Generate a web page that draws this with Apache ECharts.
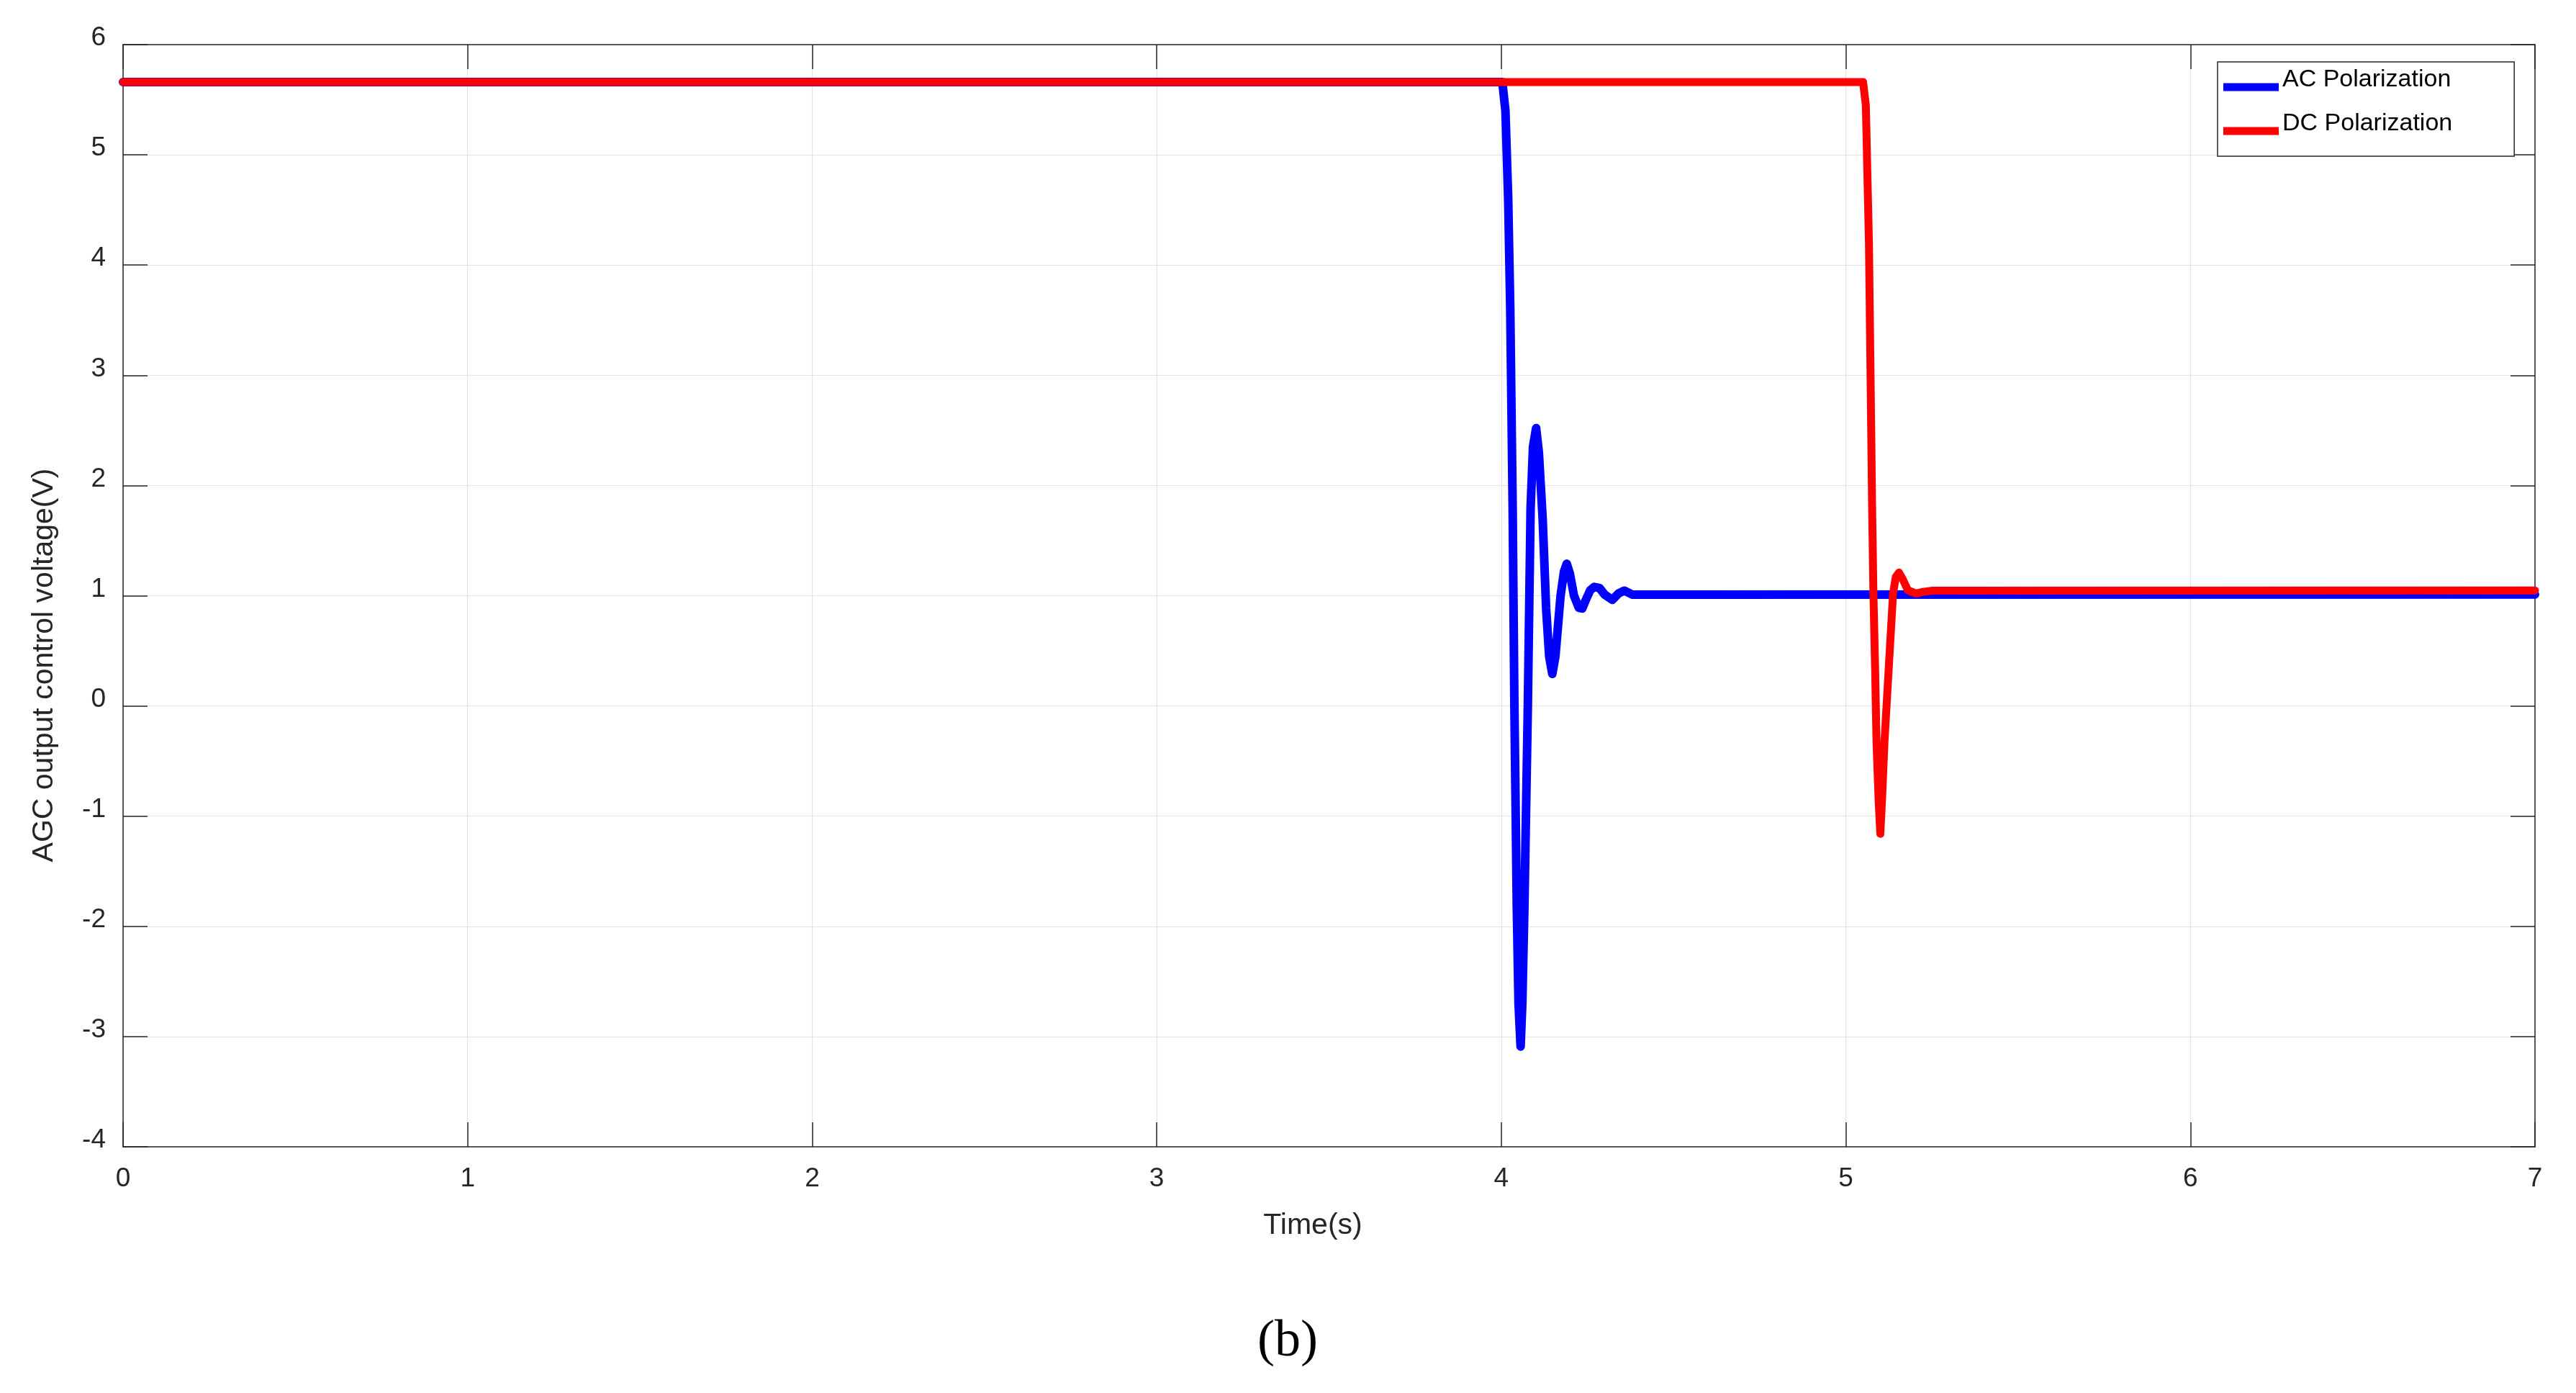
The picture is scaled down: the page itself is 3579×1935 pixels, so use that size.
<!DOCTYPE html>
<html>
<head>
<meta charset="utf-8">
<script src="https://cdn.jsdelivr.net/npm/echarts@6/dist/echarts.min.js"></script>
<style>
html,body{margin:0;padding:0;background:#fff;}
#chart{width:3579px;height:1935px;}
</style>
</head>
<body>
<div id="chart"></div>
<script>
// ---- Data ----
const xTicks = [0, 1, 2, 3, 4, 5, 6, 7];
const yTicks = [-4, -3, -2, -1, 0, 1, 2, 3, 4, 5, 6];

const acName = 'AC Polarization';
const acTime  = [0, 4.003, 4.012, 4.020, 4.026, 4.033, 4.038, 4.045, 4.050, 4.056, 4.061, 4.067, 4.077, 4.085, 4.092, 4.101, 4.109, 4.120, 4.130, 4.139, 4.148, 4.157, 4.172, 4.182, 4.190, 4.199, 4.211, 4.225, 4.235, 4.245, 4.258, 4.270, 4.285, 4.300, 4.322, 4.340, 4.357, 4.380, 7.0];
const acValue = [5.66, 5.66, 5.40, 4.60, 3.60, 1.79, 0.00, -1.83, -2.70, -3.09, -2.70, -1.83, 0.00, 1.79, 2.35, 2.52, 2.30, 1.70, 0.89, 0.45, 0.29, 0.45, 1.00, 1.22, 1.29, 1.20, 1.00, 0.89, 0.885, 0.96, 1.05, 1.08, 1.07, 1.01, 0.963, 1.02, 1.046, 1.01, 1.012];

const dcName = 'DC Polarization';
const dcTime  = [0, 5.050, 5.058, 5.067, 5.074, 5.076, 5.080, 5.085, 5.089, 5.095, 5.100, 5.105, 5.112, 5.124, 5.137, 5.145, 5.154, 5.165, 5.180, 5.203, 5.225, 5.248, 7.0];
const dcValue = [5.66, 5.66, 5.45, 4.20, 2.39, 1.84, 1.02, 0.32, -0.33, -0.85, -1.16, -0.85, -0.33, 0.32, 1.02, 1.17, 1.21, 1.15, 1.05, 1.02, 1.035, 1.045, 1.048];

const xTitle = 'Time(s)';
const yTitle = 'AGC output control voltage(V)';
const panelLabel = '(b)';

// ---- Build ----
const zip = (a, b) => a.map((t, i) => [t, b[i]]);
const axisColor = '#262626';
const sans = '"Liberation Sans", Arial, Helvetica, sans-serif';

const chart = echarts.init(document.getElementById('chart'), null, {renderer: 'canvas'});

const tickStyle = {show: true, inside: true, length: 34, lineStyle: {color: axisColor, width: 1.5}};
const lineAx = {show: true, onZero: false, lineStyle: {color: axisColor, width: 1.5}};

// legend swatch: a thick line sitting slightly below the text centre (as in the reference)
const legendIcon = 'path://M0,0L77,0Z M0,20L77,20L77,31L0,31Z';

chart.setOption({
  backgroundColor: '#ffffff',
  animation: false,
  grid: {left: 171, right: 57, top: 62, bottom: 342, show: false},
  legend: {
    orient: 'vertical',
    left: 3081, top: 86,
    padding: [8, 86, 28, 8],
    itemGap: 27,
    itemWidth: 77, itemHeight: 31,
    icon: legendIcon,
    borderColor: axisColor, borderWidth: 1.5,
    backgroundColor: '#ffffff',
    textStyle: {fontSize: 34, color: '#000000', fontFamily: sans},
    data: [acName, dcName]
  },
  xAxis: [
    {
      type: 'value', position: 'bottom', min: xTicks[0], max: xTicks[xTicks.length - 1], interval: 1,
      axisLine: lineAx, axisTick: tickStyle,
      axisLabel: {fontSize: 37, color: axisColor, fontFamily: sans, margin: 26},
      splitLine: {show: true, lineStyle: {color: '#e3e3e3', width: 1.2}}
    },
    {
      type: 'value', position: 'top', min: xTicks[0], max: xTicks[xTicks.length - 1], interval: 1,
      axisLine: lineAx, axisTick: tickStyle, axisLabel: {show: false}, splitLine: {show: false}
    }
  ],
  yAxis: [
    {
      type: 'value', position: 'left', min: yTicks[0], max: yTicks[yTicks.length - 1], interval: 1,
      axisLine: lineAx, axisTick: tickStyle,
      axisLabel: {fontSize: 37, color: axisColor, fontFamily: sans, margin: 24, verticalAlign: 'bottom', lineHeight: 18},
      splitLine: {show: true, lineStyle: {color: '#e3e3e3', width: 1.2}}
    },
    {
      type: 'value', position: 'right', min: yTicks[0], max: yTicks[yTicks.length - 1], interval: 1,
      axisLine: lineAx, axisTick: tickStyle, axisLabel: {show: false}, splitLine: {show: false}
    }
  ],
  series: [
    {
      name: acName, type: 'line', xAxisIndex: 0, yAxisIndex: 0,
      data: zip(acTime, acValue),
      showSymbol: false, symbol: 'none', smooth: false,
      color: '#0000ff',
      lineStyle: {color: '#0000ff', width: 12, cap: 'round', join: 'round'},
      z: 2
    },
    {
      name: dcName, type: 'line', xAxisIndex: 0, yAxisIndex: 0,
      data: zip(dcTime, dcValue),
      showSymbol: false, symbol: 'none', smooth: false,
      color: '#ff0000',
      lineStyle: {color: '#ff0000', width: 11, cap: 'round', join: 'round'},
      z: 3
    }
  ],
  graphic: [
    {
      type: 'text', x: 1824, y: 1703,
      style: {text: xTitle, fontSize: 41, fill: axisColor, fontFamily: sans, align: 'center', verticalAlign: 'middle'}
    },
    {
      type: 'text', x: 62, y: 924, rotation: Math.PI / 2,
      style: {text: yTitle, fontSize: 41, fill: axisColor, fontFamily: sans, align: 'center', verticalAlign: 'middle'}
    },
    {
      type: 'text', x: 1789, y: 1864,
      style: {text: panelLabel, fontSize: 72, fill: '#000000', fontFamily: '"Liberation Serif", "Times New Roman", serif', align: 'center', verticalAlign: 'middle'}
    }
  ]
});
</script>
</body>
</html>
